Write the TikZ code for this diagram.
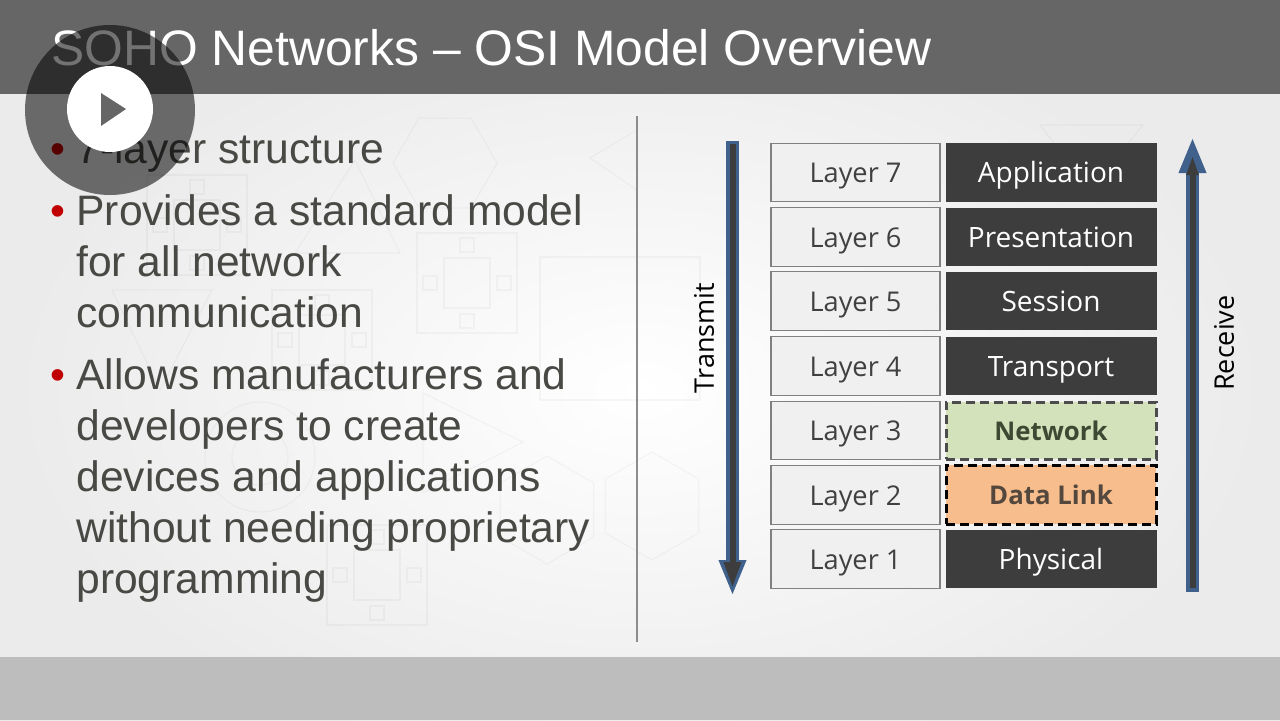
\documentclass[tikz,border=0pt]{standalone}
\usepackage{fontspec}
\setmainfont{Liberation Sans}
\newfontfamily\boxfont{Open Sans}
\usetikzlibrary{arrows.meta,shapes.geometric}
\definecolor{bandtop}{HTML}{666666}
\definecolor{bandlow}{HTML}{BDBDBD}
\definecolor{bodytext}{HTML}{484844}
\definecolor{bulletred}{HTML}{C00000}
\definecolor{darkbox}{HTML}{3D3D3D}
\definecolor{arrowblue}{HTML}{3F618C}
\definecolor{netgreen}{HTML}{D3E2BA}
\definecolor{nettext}{HTML}{3C4A33}
\definecolor{linkorange}{HTML}{F8BD8C}
\definecolor{linktext}{HTML}{54483E}
\tikzset{
    layerbox/.style={draw=black!50, line width=0.55pt, fill=white!94!black, minimum width=84.5pt, minimum height=29.2pt, inner sep=0pt, text height=10pt, text depth=0pt, text=black!75, font=\boxfont\fontsize{13.6}{16}\selectfont},
    namebox/.style={fill=darkbox, minimum width=105.5pt, minimum height=29.2pt, inner sep=0pt, text height=10pt, text depth=0pt, text=white, font=\boxfont\fontsize{14}{16}\selectfont},
    dashbox/.style={namebox, dash pattern=on 4.6pt off 2.4pt, line width=1.5pt, minimum width=105pt, font=\boxfont\bfseries\fontsize{12.9}{16}\selectfont},
    bullettext/.style={anchor=north west, align=left, inner sep=0pt, text=bodytext, font=\fontsize{21.3}{25.5}\selectfont},
    bulletdot/.style={inner sep=0pt, text=bulletred, font=\fontsize{21.3}{25.5}\selectfont},
    sidelabel/.style={rotate=90, inner sep=0pt, text=black, font=\boxfont\fontsize{13.5}{16}\selectfont},
    faintline/.style={draw=black, draw opacity=0.03, line width=0.6pt}
}
\begin{document}
\begin{tikzpicture}[x=0.5pt, y=-0.5pt]
    \useasboundingbox (0, 0) rectangle (1280, 720);
    % Slide background and the two bands
    \shade[inner color=white, outer color=black!8] (0, 0) rectangle (1280, 780);
    \fill[bandtop] (0, 0) rectangle (1280, 94);
    \fill[bandlow] (0, 657) rectangle (1280, 720);

    % Faint pattern behind the text
    \node[faintline, regular polygon, regular polygon sides=6, minimum size=52pt, inner sep=0pt] (hexa) at (445, 163) {};
    \foreach \x/\y in {
        547/510, 652/506
    }
    \node[faintline, regular polygon, regular polygon sides=6, shape border rotate=30, minimum size=54pt, inner sep=0pt] (hex\x) at (\x, \y) {};
    % Square modules with four small squares
    \foreach \x/\y in {
        467/283, 377/575, 197/225, 322/340
    }
    {
        \draw[faintline] (\x - 50, \y - 50) rectangle (\x + 50, \y + 50);
        \draw[faintline] (\x - 23, \y - 25) rectangle (\x + 23, \y + 25);
        \foreach \dx/\dy in {
            0/-38, 0/38, -37/0, 37/0
        }
        \draw[faintline] (\x + \dx - 7, \y + \dy - 7) rectangle (\x + \dx + 7, \y + \dy + 7);
    }
    \draw[faintline] (355, 160) -- (400, 253) -- (295, 253) -- cycle;
    \draw[faintline] (112, 290) -- (212, 290) -- (160, 390) -- cycle;
    \draw[faintline] (423, 393) -- (523, 442) -- (423, 493) -- cycle;
    \draw[faintline] (590, 158) -- (637, 130) -- (637, 190) -- cycle;
    \draw[faintline] (1040, 125) -- (1143, 125) -- (1090, 190) -- cycle;
    \draw[faintline] (540, 257) rectangle (700, 400);
    \draw[faintline] (260, 457) circle (55);
    \draw[faintline] (260, 457) circle (28);

    % Title
    \node[anchor=west, inner sep=0pt, text=white, font=\fontsize{24.9}{30}\selectfont] (title) at (51, 48) {SOHO Networks -- OSI Model Overview};

    % Bullets
    \node[bulletdot] (dot1) at (58, 154) {•};
    \node[bulletdot] (dot2) at (58, 216) {•};
    \node[bulletdot] (dot3) at (58, 380) {•};
    \node[bullettext] (text1) at (76, 132) {7-layer structure};
    \node[bullettext] (text2) at (76, 194) {Provides a standard model\\for all network\\communication};
    \node[bullettext] (text3) at (76, 358) {Allows manufacturers and\\developers to create\\devices and applications\\without needing proprietary\\programming};

    % Divider
    \coordinate (divtop) at (637, 116);
    \coordinate (divlow) at (637, 642);
    \draw[black!45, line width=0.7pt] (divtop) -- (divlow);

    % Layer boxes and their names
    \foreach \n/\y/\lab in {
        7/172.5/Application, 6/237/Presentation, 5/301/Session, 4/366/Transport, 1/559/Physical
    }
    {
        \node[layerbox] (layer\n) at (855.5, \y) {Layer \n\hspace{2pt}};
        \node[namebox] (name\n) at (1051, \y) {\lab};
    }
    \foreach \n/\y in {3/430.5, 2/495}
    \node[layerbox] (layer\n) at (855.5, \y) {Layer \n\hspace{2pt}};
    \node[dashbox, fill=netgreen, text=nettext, draw=black!70, minimum height=28.5pt] (name3) at (1051, 430.5) {Network};
    \node[dashbox, fill=linkorange, text=linktext, draw=black, minimum height=29.5pt] (name2) at (1051, 494.5) {Data Link};

    % Transmit and Receive arrows
    \coordinate (txtop) at (732.5, 141);
    \coordinate (txlow) at (732.5, 596);
    \coordinate (rxtop) at (1192.5, 137);
    \coordinate (rxlow) at (1192.5, 592);
    \draw[arrowblue, line width=6.5pt, -{Triangle[length=18pt, width=12.5pt]}] (txtop) -- (txlow);
    \draw[darkbox, line width=3pt, -{Triangle[length=13pt, width=8pt]}] ([yshift=-1.5pt]txtop) -- ([yshift=4pt]txlow);
    \draw[arrowblue, line width=6.5pt, -{Triangle[length=18pt, width=12.5pt]}] (rxlow) -- (rxtop);
    \draw[darkbox, line width=3pt, -{Triangle[length=10pt, width=5.5pt]}] ([yshift=2pt]rxlow) -- ([yshift=-9pt]rxtop);
    \node[sidelabel] (transmit) at (704, 338) {Transmit};
    \node[sidelabel] (receive) at (1224, 343) {Receive};

    % Play button over everything
    \fill[black, opacity=0.55] (110, 110) circle (85);
    \node[circle, fill=white, minimum size=43pt, inner sep=0pt] (playdisc) at (110, 109) {};
    \fill[bandtop] (101, 93) -- (126, 109) -- (101, 126) -- cycle;
\end{tikzpicture}
\end{document}
